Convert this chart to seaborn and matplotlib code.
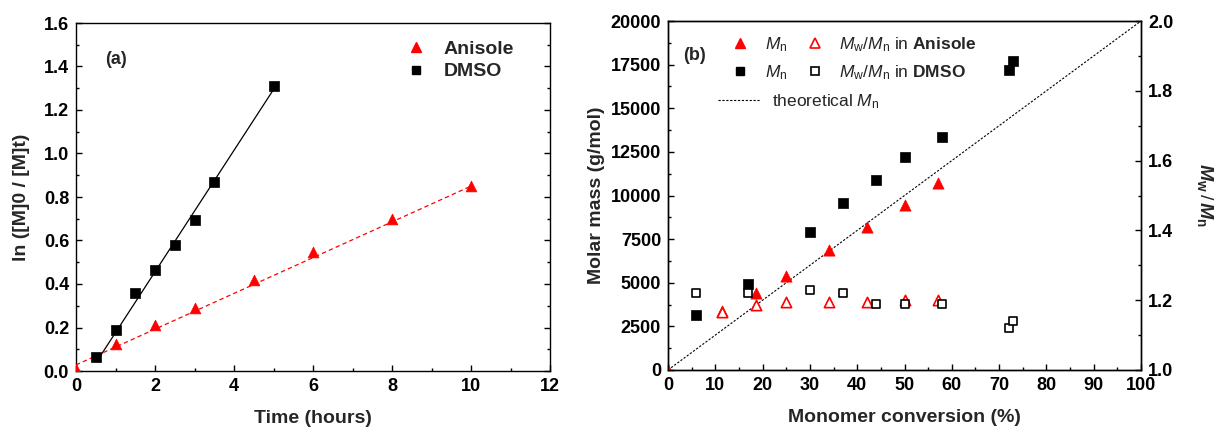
import numpy as np
import pandas as pd
import matplotlib
matplotlib.use("Agg")
import matplotlib.pyplot as plt
import seaborn as sns
from matplotlib.lines import Line2D
from matplotlib.ticker import MultipleLocator

# ---------------- data: panel (a) ----------------
time_anisole = [0, 1, 2, 3, 4.5, 6, 8, 10]
lnm_anisole = [0.01, 0.125, 0.21, 0.29, 0.42, 0.545, 0.70, 0.85]
time_dmso = [0.5, 1, 1.5, 2, 2.5, 3, 3.5, 5]
lnm_dmso = [0.065, 0.19, 0.36, 0.465, 0.58, 0.695, 0.87, 1.31]
fit_anisole_t = [0, 10]
fit_anisole_y = [0.028, 0.85]
fit_dmso_t = [0.63, 5.0]
fit_dmso_y = [0.073, 1.294]

# ---------------- data: panel (b) ----------------
conv_anisole = [0, 11.5, 18.5, 25, 34, 42, 50, 57]
mn_anisole = [0, 3400, 4430, 5380, 6850, 8170, 9480, 10700]
conv_anisole_pdi = [11.5, 18.5, 25, 34, 42, 50, 57]
pdi_anisole = [1.165, 1.185, 1.195, 1.195, 1.195, 1.20, 1.20]
conv_dmso = [6, 17, 30, 37, 44, 50, 58, 72, 73]
mn_dmso = [3180, 4900, 7890, 9570, 10870, 12190, 13340, 17170, 17720]
pdi_dmso = [1.22, 1.22, 1.23, 1.22, 1.19, 1.19, 1.19, 1.12, 1.14]
theo_conv = [0, 100]
theo_mn = [0, 20000]

sns.set_style("ticks")
plt.rcParams['font.family'] = ['Liberation Sans', 'DejaVu Sans']
plt.rcParams['mathtext.fontset'] = 'custom'
plt.rcParams['mathtext.rm'] = 'Liberation Sans'
plt.rcParams['mathtext.it'] = 'Liberation Sans:italic'
plt.rcParams['mathtext.bf'] = 'Liberation Sans:bold'
plt.rcParams['mathtext.bfit'] = 'Liberation Sans:italic:bold'

RED = '#ff0000'
TICK_FS = 13
LABEL_FS = 14

fig = plt.figure(figsize=(12.17, 4.30), dpi=100)
axa = fig.add_axes([76/1217, (430-371)/430, 474/1217, 348/430])
axb = fig.add_axes([668/1217, (430-370)/430, 473/1217, 349/430])

def style_axis(ax):
    for s in ax.spines.values():
        s.set_linewidth(1.0)
        s.set_color('black')
    ax.tick_params(which='both', direction='in', colors='black', labelsize=TICK_FS)
    ax.tick_params(which='major', length=4, width=1.0, pad=5)
    ax.tick_params(which='minor', length=2.5, width=1.0)
    for lab in ax.get_xticklabels() + ax.get_yticklabels():
        lab.set_fontweight('bold')

# ---------------- panel (a) ----------------
sns.lineplot(x=fit_dmso_t, y=fit_dmso_y, ax=axa, color='black', lw=0.9)
sns.lineplot(x=fit_anisole_t, y=fit_anisole_y, ax=axa, color=RED, lw=0.9,
             linestyle=(0, (3.5, 2.5)))
sns.scatterplot(x=time_anisole, y=lnm_anisole, ax=axa, marker='^', s=60,
                color=RED, edgecolor=RED, linewidth=0.5, zorder=3)
sns.scatterplot(x=time_dmso, y=lnm_dmso, ax=axa, marker='s', s=42,
                color='black', edgecolor='black', linewidth=0.5, zorder=3)
axa.set_xlim(0, 12)
axa.set_ylim(0, 1.6)
axa.xaxis.set_major_locator(MultipleLocator(2))
axa.xaxis.set_minor_locator(MultipleLocator(1))
axa.yaxis.set_major_locator(MultipleLocator(0.2))
axa.yaxis.set_minor_locator(MultipleLocator(0.1))
axa.yaxis.set_major_formatter(matplotlib.ticker.FormatStrFormatter('%.1f'))
axa.tick_params(which='both', right=True, top=False)
style_axis(axa)
axa.set_xlabel('Time (hours)', fontsize=LABEL_FS, fontweight='bold', labelpad=11)
axa.set_ylabel('ln ([M]0 / [M]t)', fontsize=LABEL_FS, fontweight='bold', labelpad=10)
axa.text(0.061, 0.894, '(a)', transform=axa.transAxes, fontsize=13,
         fontweight='bold', va='center', ha='left')
ha = [Line2D([], [], marker='^', color=RED, ls='none', markersize=7.5),
      Line2D([], [], marker='s', color='black', ls='none', markersize=6.3)]
leg_a = axa.legend(ha, ['Anisole', 'DMSO'], loc='upper left',
                   bbox_to_anchor=(0.696, 0.95), frameon=False, borderpad=0,
                   borderaxespad=0, handlelength=1.0, handletextpad=0.95,
                   labelspacing=0.25, prop={'size': 14, 'weight': 'bold'})

# ---------------- panel (b) ----------------
axb2 = axb.twinx()
sns.lineplot(x=theo_conv, y=theo_mn, ax=axb, color='black', lw=0.8,
             linestyle=(0, (2, 1.5)))
sns.scatterplot(x=conv_anisole, y=mn_anisole, ax=axb, marker='^', s=65,
                color=RED, edgecolor=RED, linewidth=0.5, zorder=3)
sns.scatterplot(x=conv_dmso, y=mn_dmso, ax=axb, marker='s', s=48,
                color='black', edgecolor='black', linewidth=0.5, zorder=3)
sns.scatterplot(x=conv_anisole_pdi, y=pdi_anisole, ax=axb2, marker='^', s=55,
                facecolor='white', edgecolor=RED, linewidth=1.2, zorder=3)
sns.scatterplot(x=conv_dmso, y=pdi_dmso, ax=axb2, marker='s', s=30,
                facecolor='white', edgecolor='black', linewidth=1.2, zorder=3)
axb.set_xlim(0, 100)
axb.set_ylim(0, 20000)
axb2.set_ylim(1.0, 2.0)
axb.xaxis.set_major_locator(MultipleLocator(10))
axb.xaxis.set_minor_locator(MultipleLocator(5))
axb.yaxis.set_major_locator(MultipleLocator(2500))
axb.yaxis.set_minor_locator(MultipleLocator(1250))
axb2.yaxis.set_major_locator(MultipleLocator(0.2))
axb2.yaxis.set_minor_locator(MultipleLocator(0.1))
axb2.yaxis.set_major_formatter(matplotlib.ticker.FormatStrFormatter('%.1f'))
axb.tick_params(which='both', right=False, top=False)
style_axis(axb)
style_axis(axb2)
axb.set_xlabel('Monomer conversion (%)', fontsize=LABEL_FS, fontweight='bold', labelpad=11)
axb.set_ylabel('Molar mass (g/mol)', fontsize=LABEL_FS, fontweight='bold', labelpad=4)
axb2.set_ylabel(r'$\mathbfit{M}_\mathbf{w}\,/\,\mathbfit{M}_\mathbf{n}$',
                fontsize=LABEL_FS, rotation=270, labelpad=30)
axb.text(0.033, 0.90, '(b)', transform=axb.transAxes, fontsize=13,
         fontweight='bold', va='center', ha='left')

hb = [Line2D([], [], marker='^', color=RED, ls='none', markersize=7.5),
      Line2D([], [], marker='s', color='black', ls='none', markersize=6.3),
      Line2D([], [], marker='^', markerfacecolor='white', markeredgecolor=RED,
             ls='none', markersize=7, markeredgewidth=1.2),
      Line2D([], [], marker='s', markerfacecolor='white', markeredgecolor='black',
             ls='none', markersize=5.5, markeredgewidth=1.2)]
lb = [r'$M_\mathrm{n}$', r'$M_\mathrm{n}$',
      r'$M_\mathrm{w}/M_\mathrm{n}$ in $\mathbf{Anisole}$',
      r'$M_\mathrm{w}/M_\mathrm{n}$ in $\mathbf{DMSO}$']
leg_b1 = axb2.legend(hb, lb, ncol=2, loc='upper left', bbox_to_anchor=(0.135, 0.96),
                     frameon=False, borderpad=0, borderaxespad=0, handlelength=0.95,
                     handletextpad=0.95, columnspacing=1.1, labelspacing=0.55,
                     prop={'size': 12.5})
axb2.add_artist(leg_b1)
ht = [Line2D([], [], color='black', lw=0.8, linestyle=(0, (2, 1.5)))]
leg_b2 = axb2.legend(ht, [r'theoretical $M_\mathrm{n}$'], loc='upper left',
                     bbox_to_anchor=(0.106, 0.795), frameon=False, borderpad=0,
                     borderaxespad=0, handlelength=2.4, handletextpad=0.7,
                     prop={'size': 12.5})

fig.savefig('out.png', dpi=100)
